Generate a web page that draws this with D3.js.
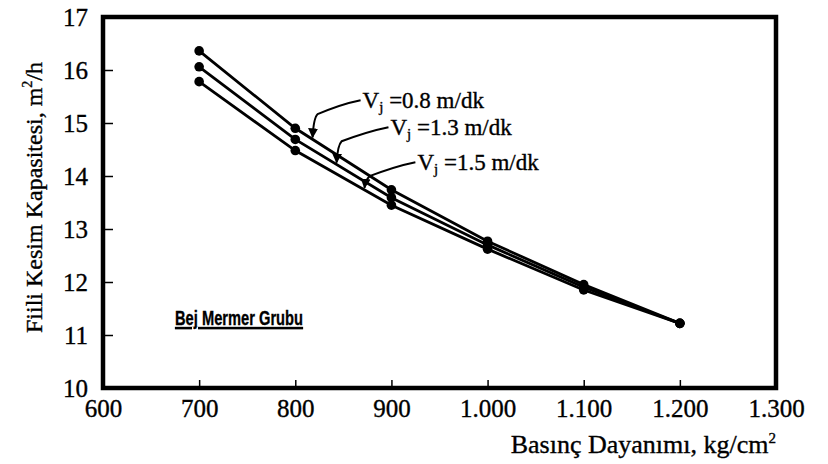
<!DOCTYPE html>
<html>
<head>
<meta charset="utf-8">
<script src="https://cdn.jsdelivr.net/npm/d3@7"></script>
<style>
  body { margin: 0; background: #fff; }
  svg text { font-family: "Liberation Serif", "Times New Roman", serif; fill: #000; stroke: #000; stroke-width: 0.35px; }
</style>
</head>
<body>
<svg id="chart" width="828" height="464"></svg>
<script>
// Basinc dayanimi (kg/cm2) values for the points
var strength = [700, 800, 900, 1000, 1100, 1200];

// Fiili kesim kapasitesi (m2/h) for each feed speed
var cap08 = [16.36, 14.90, 13.74, 12.77, 11.95, 11.22];
var cap13 = [16.06, 14.69, 13.59, 12.70, 11.90, 11.22];
var cap15 = [15.78, 14.48, 13.45, 12.62, 11.85, 11.22];

var seriesNames = ["0.8", "1.3", "1.5"];
var xTicks = [600, 700, 800, 900, 1000, 1100, 1200, 1300];
var yTicks = [10, 11, 12, 13, 14, 15, 16, 17];

// leader arrows: target strength on the line, text anchor (strength, capacity)
var labelTargetX = [818, 843, 872];
var labelTextX = [870, 899, 927];
var labelTextY = [15.28, 14.77, 14.11];

var margin = { left: 103, right: 52, top: 17, bottom: 76 };
var w = 828, h = 464;

var svg = d3.select("#chart");

var x = d3.scaleLinear()
    .domain([600, 1300])
    .range([margin.left, w - margin.right]);

var y = d3.scaleLinear()
    .domain([10, 17])
    .range([h - margin.bottom, margin.top]);

var trFormat = d3.formatLocale({ decimal: ",", thousands: ".", grouping: [3], currency: ["", ""] }).format(",");

// axes with inward ticks
var xAxis = svg.append("g")
    .attr("transform", "translate(0," + y(10) + ")")
    .call(d3.axisBottom(x).tickValues(xTicks).tickSize(-8).tickPadding(11).tickFormat(trFormat));
xAxis.select(".domain").remove();
xAxis.selectAll("line").attr("stroke-width", 1.5);
xAxis.selectAll("text").style("font-size", "25px").style("font-family", "Liberation Serif");

var yAxis = svg.append("g")
    .attr("transform", "translate(" + x(600) + ",0)")
    .call(d3.axisLeft(y).tickValues(yTicks).tickSize(-10).tickPadding(15).tickFormat(d3.format("d")));
yAxis.select(".domain").remove();
yAxis.selectAll("line").attr("stroke-width", 1.5);
yAxis.selectAll("text").style("font-size", "25px").style("font-family", "Liberation Serif");

// frame
svg.append("rect")
    .attr("x", x(600))
    .attr("y", y(17))
    .attr("width", x(1300) - x(600))
    .attr("height", y(10) - y(17))
    .attr("fill", "none")
    .attr("stroke", "#000")
    .attr("stroke-width", 4.5);

// lines and points
var allSeries = [cap08, cap13, cap15];
var line = d3.line()
    .x(function(d, i) { return x(strength[i]); })
    .y(function(d) { return y(d); });

allSeries.forEach(function(vals) {
    svg.append("path")
        .datum(vals)
        .attr("d", line)
        .attr("fill", "none")
        .attr("stroke", "#000")
        .attr("stroke-width", 2.8);

    svg.selectAll(null)
        .data(vals)
        .enter()
        .append("circle")
        .attr("cx", function(d, i) { return x(strength[i]); })
        .attr("cy", function(d) { return y(d); })
        .attr("r", 4.8)
        .attr("fill", "#000");
});

// arrow marker
svg.append("defs").append("marker")
    .attr("id", "arrow")
    .attr("viewBox", "0 0 10 10")
    .attr("refX", 9)
    .attr("refY", 5)
    .attr("markerWidth", 10)
    .attr("markerHeight", 10)
    .attr("markerUnits", "userSpaceOnUse")
    .attr("orient", "auto")
    .append("path")
    .attr("d", "M0,0 L10,5 L0,10 z")
    .attr("fill", "#000");

// value on a series at a given strength (linear between points)
function valueAt(vals, sx) {
    var interp = d3.scaleLinear().domain(strength).range(vals);
    return interp(sx);
}

seriesNames.forEach(function(name, i) {
    var tx = x(labelTextX[i]);
    var ty = y(labelTextY[i]);
    var tipX = x(labelTargetX[i]);
    var tipY = y(valueAt(allSeries[i], labelTargetX[i])) - 2;
    var sx = tx - 2, sy = ty - 8;
    var ex = tipX + 5, ey = sy + 14;

    svg.append("path")
        .attr("d", "M" + sx + "," + sy +
            " Q" + (sx - 20) + "," + (sy + 4) + " " + ex + "," + ey +
            " Q" + (tipX + 1) + "," + (ey + 4) + " " + tipX + "," + tipY)
        .attr("fill", "none")
        .attr("stroke", "#000")
        .attr("stroke-width", 2)
        .attr("marker-end", "url(#arrow)");

    var t = svg.append("text")
        .attr("x", tx)
        .attr("y", ty)
        .style("font-size", "23px");
    t.append("tspan").text("V");
    t.append("tspan").attr("dy", 4).style("font-size", "15px").text("j");
    t.append("tspan").attr("dy", -4).text(" =" + name + " m/dk");
});

// group label
svg.append("text")
    .attr("x", 175)
    .attr("y", 325)
    .attr("textLength", 128)
    .attr("lengthAdjust", "spacingAndGlyphs")
    .style("font-family", "Liberation Sans, Arial, sans-serif")
    .style("font-weight", "bold")
    .style("font-size", "21px")
    .style("text-decoration", "underline")
    .text("Bej Mermer Grubu");

// axis titles
var xt = svg.append("text")
    .attr("x", w - margin.right)
    .attr("y", 453)
    .attr("text-anchor", "end")
    .style("font-size", "26px");
xt.append("tspan").text("Basınç Dayanımı, kg/cm");
xt.append("tspan").attr("dy", -10).style("font-size", "15px").text("2");

var yt = svg.append("text")
    .attr("transform", "translate(42," + ((y(10) + y(17)) / 2 - 5) + ") rotate(-90)")
    .attr("text-anchor", "middle")
    .style("font-size", "24px");
yt.append("tspan").text("Fiili Kesim Kapasitesi, m");
yt.append("tspan").attr("dy", -10).style("font-size", "14px").text("2");
yt.append("tspan").attr("dy", 10).text("/h");
</script>
</body>
</html>
